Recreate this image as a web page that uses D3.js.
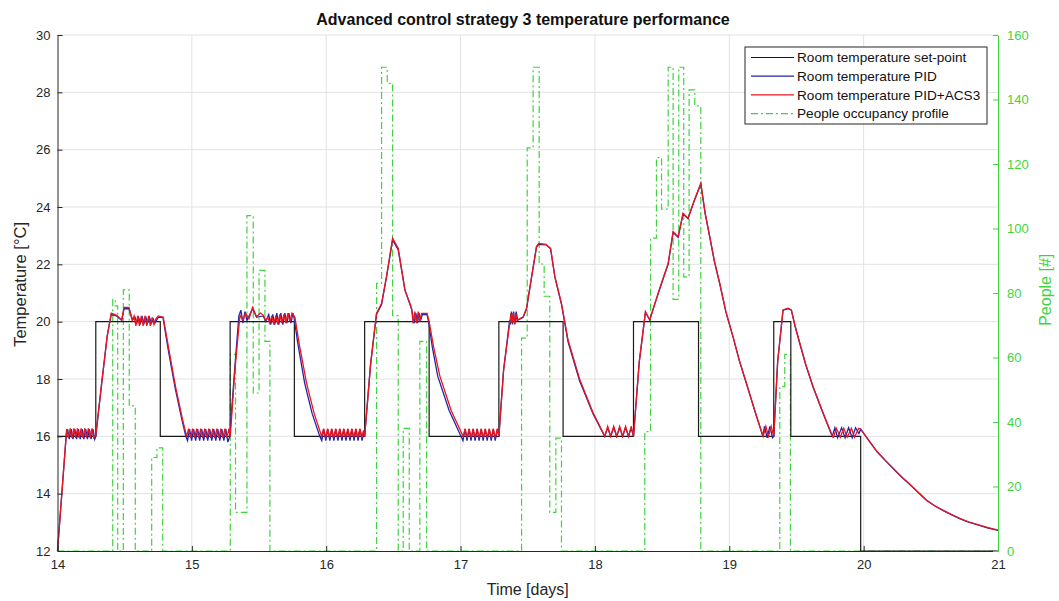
<!DOCTYPE html>
<html>
<head>
<meta charset="utf-8">
<script src="https://cdn.jsdelivr.net/npm/d3@7"></script>
<style>
  body { margin: 0; background: #fff; }
  text { font-family: "Liberation Sans", Arial, sans-serif; }
</style>
</head>
<body>
<div id="chart"></div>
<script>
const width = 1059;
const height = 601;
const margins = { top: 35, bottom: 50, left: 57.5, right: 61 };

// set-point steps [day, degC]
const setPoint = [
  [14.0, 16], [14.285, 20], [14.765, 16], [15.285, 20], [15.763, 16],
  [16.286, 20], [16.766, 16], [17.285, 20], [17.763, 16], [18.287, 20],
  [18.771, 16], [19.331, 20], [19.458, 16], [19.978, 12], [21.0, 12],
];

// room temperature with PID+ACS3 [day, degC]
const tempAcs3 = [
  [14.0, 12.0], [14.068, 16.25], [14.081, 15.95], [14.095, 16.28], [14.108, 15.95],
  [14.122, 16.28], [14.135, 15.95], [14.149, 16.28], [14.162, 15.95], [14.176, 16.28],
  [14.189, 15.95], [14.203, 16.28], [14.216, 15.95], [14.23, 16.28], [14.243, 15.95],
  [14.257, 16.28], [14.27, 15.95], [14.285, 16.05],
  [14.33, 17.9], [14.37, 19.5], [14.4, 20.3], [14.44, 20.22], [14.478, 20.05],
  [14.495, 20.5], [14.532, 20.5], [14.557, 20.05], [14.57, 20.2], [14.583, 19.85],
  [14.597, 20.2], [14.61, 19.85], [14.624, 20.2], [14.637, 19.85], [14.651, 20.2],
  [14.664, 19.85], [14.678, 20.2], [14.691, 19.85], [14.705, 20.15], [14.718, 19.9],
  [14.732, 20.1], [14.75, 20.2], [14.787, 20.15],
  [14.83, 19.0], [14.88, 17.7], [14.93, 16.6], [14.961, 16.0],
  [14.976, 16.27], [14.991, 15.95], [15.006, 16.27], [15.021, 15.95], [15.036, 16.27],
  [15.051, 15.95], [15.066, 16.27], [15.081, 15.95], [15.096, 16.27], [15.111, 15.95],
  [15.126, 16.27], [15.141, 15.95], [15.156, 16.27], [15.171, 15.95], [15.186, 16.27],
  [15.201, 15.95], [15.216, 16.27], [15.231, 15.95], [15.246, 16.27], [15.261, 15.95],
  [15.276, 16.27], [15.286, 16.0],
  [15.32, 18.3], [15.358, 20.23], [15.38, 20.05], [15.4, 20.3], [15.425, 20.1],
  [15.452, 20.5], [15.482, 20.17], [15.51, 20.3], [15.531, 20.23], [15.55, 20.05],
  [15.565, 20.15], [15.58, 19.95], [15.595, 20.2], [15.61, 19.9], [15.625, 20.2],
  [15.64, 19.9], [15.655, 20.25], [15.67, 19.95], [15.685, 20.25], [15.7, 19.95],
  [15.715, 20.3], [15.73, 20.0], [15.745, 20.3], [15.767, 20.15],
  [15.8, 19.2], [15.854, 17.85], [15.91, 16.8], [15.966, 16.0],
  [15.98, 16.27], [15.995, 15.95], [16.01, 16.27], [16.025, 15.95], [16.04, 16.27],
  [16.055, 15.95], [16.07, 16.27], [16.085, 15.95], [16.1, 16.27], [16.115, 15.95],
  [16.13, 16.27], [16.145, 15.95], [16.16, 16.27], [16.175, 15.95], [16.19, 16.27],
  [16.205, 15.95], [16.22, 16.27], [16.235, 15.95], [16.25, 16.27], [16.265, 15.95],
  [16.277, 16.2], [16.286, 16.0],
  [16.33, 18.5], [16.374, 20.29], [16.412, 20.64], [16.45, 21.6], [16.494, 22.91],
  [16.536, 22.56], [16.586, 21.11], [16.635, 20.47], [16.647, 19.94], [16.66, 20.35],
  [16.672, 19.95], [16.685, 20.35], [16.697, 20.0], [16.71, 20.29], [16.751, 20.29],
  [16.766, 20.0],
  [16.8, 19.1], [16.846, 18.1], [16.93, 16.9], [17.019, 16.0],
  [17.034, 16.27], [17.049, 15.95], [17.064, 16.27], [17.079, 15.95], [17.094, 16.27],
  [17.109, 15.95], [17.124, 16.27], [17.139, 15.95], [17.154, 16.27], [17.169, 15.95],
  [17.184, 16.27], [17.199, 15.95], [17.214, 16.27], [17.229, 15.95], [17.244, 16.27],
  [17.259, 15.95], [17.274, 16.27], [17.285, 16.0],
  [17.32, 18.3], [17.367, 20.0], [17.375, 20.3], [17.383, 19.95], [17.391, 20.3],
  [17.4, 19.95], [17.41, 20.3], [17.42, 20.05], [17.466, 20.17], [17.491, 20.47],
  [17.53, 21.6], [17.565, 22.62], [17.581, 22.73], [17.635, 22.7], [17.67, 22.56],
  [17.702, 21.57], [17.751, 20.64], [17.8, 19.36], [17.888, 17.97], [17.987, 16.81],
  [18.074, 16.0],
  [18.095, 16.35], [18.117, 16.0], [18.14, 16.35], [18.162, 16.0], [18.184, 16.35],
  [18.206, 16.0], [18.228, 16.35], [18.25, 16.0], [18.27, 16.35], [18.287, 16.0],
  [18.33, 18.6], [18.376, 20.35], [18.408, 20.06], [18.446, 20.64], [18.495, 21.34],
  [18.545, 22.03], [18.582, 23.14], [18.619, 22.96], [18.656, 23.78], [18.693, 23.61],
  [18.736, 24.19], [18.788, 24.83],
  [18.82, 23.8], [18.855, 22.96], [18.89, 22.1], [18.929, 21.34], [18.975, 20.35],
  [19.028, 19.48], [19.075, 18.65], [19.128, 17.85], [19.19, 16.9], [19.252, 16.0],
  [19.272, 16.35], [19.292, 16.0], [19.312, 16.35], [19.331, 16.0],
  [19.36, 18.6], [19.4, 20.41], [19.437, 20.47], [19.462, 20.41],
  [19.49, 19.85], [19.525, 19.25], [19.57, 18.5], [19.624, 17.73], [19.7, 16.8], [19.768, 16.0],
  [19.776, 15.97], [19.797, 16.28], [19.826, 15.97], [19.852, 16.28], [19.878, 15.97],
  [19.909, 16.28], [19.932, 15.97], [19.963, 16.28], [19.978, 16.25],
  [20.04, 15.85], [20.1, 15.47], [20.16, 15.17], [20.219, 14.89], [20.28, 14.6],
  [20.35, 14.3], [20.41, 14.03], [20.467, 13.78], [20.53, 13.58], [20.6, 13.4],
  [20.66, 13.26], [20.715, 13.14], [20.78, 13.02], [20.85, 12.92], [20.92, 12.82],
  [21.0, 12.73],
];

// room temperature with PID only [day, degC]
const tempPid = [
  [14.0, 12.0], [14.066, 16.1], [14.075, 16.25], [14.088, 15.9], [14.102, 16.25],
  [14.115, 15.9], [14.129, 16.25], [14.142, 15.9], [14.156, 16.25], [14.169, 15.9],
  [14.183, 16.25], [14.196, 15.9], [14.21, 16.25], [14.223, 15.9], [14.237, 16.25],
  [14.25, 15.9], [14.264, 16.25], [14.277, 15.9], [14.285, 16.0],
  [14.33, 17.9], [14.37, 19.5], [14.4, 20.25], [14.44, 20.2], [14.478, 20.05],
  [14.495, 20.45], [14.532, 20.45], [14.557, 20.05], [14.577, 20.15], [14.59, 19.95],
  [14.604, 20.15], [14.617, 19.95], [14.631, 20.15], [14.644, 19.95], [14.658, 20.15],
  [14.671, 19.95], [14.685, 20.15], [14.698, 19.95], [14.712, 20.1], [14.725, 19.95],
  [14.75, 20.15], [14.785, 20.15],
  [14.825, 19.0], [14.875, 17.7], [14.925, 16.6], [14.955, 16.0],
  [14.968, 15.85], [14.983, 16.25], [14.998, 15.85], [15.013, 16.25], [15.028, 15.85],
  [15.043, 16.25], [15.058, 15.85], [15.073, 16.25], [15.088, 15.85], [15.103, 16.25],
  [15.118, 15.85], [15.133, 16.25], [15.148, 15.85], [15.163, 16.25], [15.178, 15.85],
  [15.193, 16.25], [15.208, 15.85], [15.223, 16.25], [15.238, 15.85], [15.253, 16.25],
  [15.268, 15.8], [15.282, 16.0],
  [15.318, 18.3], [15.35, 20.2], [15.365, 20.4], [15.38, 19.95], [15.395, 20.35],
  [15.41, 20.05], [15.452, 20.45], [15.482, 20.15], [15.531, 20.2], [15.55, 20.0],
  [15.572, 20.25], [15.587, 19.9], [15.602, 20.25], [15.617, 19.9], [15.632, 20.3],
  [15.647, 19.9], [15.662, 20.3], [15.677, 19.9], [15.692, 20.3], [15.707, 19.95],
  [15.722, 20.3], [15.737, 19.95], [15.752, 20.3], [15.762, 20.1],
  [15.79, 19.2], [15.84, 17.85], [15.895, 16.8], [15.952, 16.0],
  [15.967, 15.85], [15.982, 16.25], [15.997, 15.85], [16.012, 16.25], [16.027, 15.85],
  [16.042, 16.25], [16.057, 15.85], [16.072, 16.25], [16.087, 15.85], [16.102, 16.25],
  [16.117, 15.85], [16.132, 16.25], [16.147, 15.85], [16.162, 16.25], [16.177, 15.85],
  [16.192, 16.25], [16.207, 15.85], [16.222, 16.25], [16.237, 15.85], [16.252, 16.25],
  [16.267, 15.85], [16.28, 16.2], [16.286, 16.0],
  [16.33, 18.5], [16.374, 20.25], [16.412, 20.6], [16.45, 21.6], [16.494, 22.85],
  [16.536, 22.5], [16.586, 21.1], [16.635, 20.45], [16.645, 20.2], [16.655, 19.95],
  [16.667, 20.3], [16.679, 19.95], [16.691, 20.3], [16.703, 20.05], [16.715, 20.25],
  [16.75, 20.25], [16.762, 20.0],
  [16.79, 19.1], [16.83, 18.1], [16.915, 16.9], [17.003, 16.0],
  [17.018, 15.85], [17.033, 16.25], [17.048, 15.85], [17.063, 16.25], [17.078, 15.85],
  [17.093, 16.25], [17.108, 15.85], [17.123, 16.25], [17.138, 15.85], [17.153, 16.25],
  [17.168, 15.85], [17.183, 16.25], [17.198, 15.85], [17.213, 16.25], [17.228, 15.85],
  [17.243, 16.25], [17.258, 15.85], [17.273, 16.25], [17.285, 16.0],
  [17.32, 18.3], [17.365, 20.05], [17.371, 19.9], [17.379, 20.35], [17.387, 19.9],
  [17.395, 20.35], [17.404, 19.9], [17.414, 20.35], [17.425, 20.05], [17.466, 20.15],
  [17.491, 20.45], [17.53, 21.6], [17.565, 22.6], [17.581, 22.7], [17.635, 22.68],
  [17.67, 22.54], [17.702, 21.55], [17.751, 20.6], [17.8, 19.3], [17.885, 17.95],
  [17.985, 16.8], [18.072, 16.0],
  [18.095, 16.3], [18.117, 16.0], [18.14, 16.3], [18.162, 16.0], [18.184, 16.3],
  [18.206, 16.0], [18.228, 16.3], [18.25, 16.0], [18.27, 16.3], [18.287, 16.0],
  [18.33, 18.6], [18.376, 20.33], [18.408, 20.06], [18.446, 20.62], [18.495, 21.32],
  [18.545, 22.01], [18.582, 23.12], [18.619, 22.94], [18.656, 23.76], [18.693, 23.59],
  [18.736, 24.17], [18.788, 24.8],
  [18.82, 23.78], [18.855, 22.94], [18.89, 22.08], [18.929, 21.32], [18.975, 20.33],
  [19.028, 19.46], [19.075, 18.63], [19.128, 17.83], [19.19, 16.88], [19.25, 16.0],
  [19.262, 16.35], [19.282, 15.95], [19.302, 16.35], [19.322, 15.95], [19.331, 16.0],
  [19.36, 18.6], [19.4, 20.4], [19.437, 20.45], [19.462, 20.4],
  [19.49, 19.83], [19.525, 19.23], [19.57, 18.48], [19.624, 17.71], [19.7, 16.78], [19.766, 16.0],
  [19.786, 16.3], [19.806, 15.95], [19.836, 16.3], [19.862, 15.95], [19.888, 16.3],
  [19.915, 15.95], [19.94, 16.3], [19.965, 16.1], [19.978, 16.25],
  [20.04, 15.84], [20.1, 15.46], [20.16, 15.16], [20.219, 14.88], [20.28, 14.59],
  [20.35, 14.29], [20.41, 14.02], [20.467, 13.77], [20.53, 13.57], [20.6, 13.39],
  [20.66, 13.25], [20.715, 13.13], [20.78, 13.01], [20.85, 12.91], [20.92, 12.81],
  [21.0, 12.72],
];

// people occupancy profile steps [day, people]
const occupancy = [
  [14.0, 0], [14.411, 78], [14.43, 76], [14.448, 0], [14.49, 81], [14.534, 45],
  [14.579, 0], [14.701, 29], [14.74, 32], [14.783, 0],
  [15.286, 61], [15.325, 12], [15.41, 104], [15.457, 49], [15.5, 87], [15.544, 65],
  [15.581, 0],
  [16.375, 83], [16.412, 150], [16.454, 145], [16.494, 73], [16.536, 0],
  [16.573, 38], [16.618, 0], [16.697, 65], [16.747, 0],
  [17.454, 66], [17.496, 125], [17.54, 150], [17.585, 89], [17.622, 79],
  [17.664, 12], [17.709, 35], [17.751, 0],
  [18.371, 37], [18.414, 97], [18.458, 122], [18.496, 106], [18.545, 150],
  [18.582, 78], [18.624, 150], [18.661, 85], [18.701, 143], [18.743, 138],
  [18.788, 0],
  [19.376, 51], [19.413, 61], [19.455, 0], [21.0, 0],
];

const xTicks = [14, 15, 16, 17, 18, 19, 20, 21];
const yLeftTicks = [12, 14, 16, 18, 20, 22, 24, 26, 28, 30];
const yRightTicks = [0, 20, 40, 60, 80, 100, 120, 140, 160];

const legendItems = [
  { label: "Room temperature set-point", color: "#1a1a1a", dash: null },
  { label: "Room temperature PID", color: "#2323a8", dash: null },
  { label: "Room temperature PID+ACS3", color: "#e8161e", dash: null },
  { label: "People occupancy profile", color: "#3ed43e", dash: "7,3,2,3" },
];

const green = "#3ed43e";

// SCALES
const timeScale = d3.scaleLinear().domain([14, 21]).range([margins.left, width - margins.right]);
const tempScale = d3.scaleLinear().domain([12, 30]).range([height - margins.bottom, margins.top]);
const peopleScale = d3.scaleLinear().domain([0, 160]).range([height - margins.bottom, margins.top]);

const svg = d3
  .select("#chart")
  .append("svg")
  .attr("width", width)
  .attr("height", height);

// GRID
svg
  .append("g")
  .selectAll("line.vgrid")
  .data(xTicks.slice(1, -1))
  .enter()
  .append("line")
  .attr("x1", (d) => timeScale(d))
  .attr("x2", (d) => timeScale(d))
  .attr("y1", margins.top)
  .attr("y2", height - margins.bottom)
  .attr("stroke", "#e2e2e2");

svg
  .append("g")
  .selectAll("line.hgrid")
  .data(yLeftTicks.slice(1))
  .enter()
  .append("line")
  .attr("x1", margins.left)
  .attr("x2", width - margins.right)
  .attr("y1", (d) => tempScale(d))
  .attr("y2", (d) => tempScale(d))
  .attr("stroke", "#e2e2e2");

// LINES
const tempLine = d3
  .line()
  .x((d) => timeScale(d[0]))
  .y((d) => tempScale(d[1]));

const stepLine = d3
  .line()
  .curve(d3.curveStepAfter)
  .x((d) => timeScale(d[0]))
  .y((d) => tempScale(d[1]));

const peopleLine = d3
  .line()
  .curve(d3.curveStepAfter)
  .x((d) => timeScale(d[0]))
  .y((d) => peopleScale(d[1]));

svg
  .append("path")
  .attr("d", peopleLine(occupancy))
  .attr("fill", "none")
  .attr("stroke", green)
  .attr("stroke-width", 1.2)
  .attr("stroke-dasharray", "7,3,2,3");

svg
  .append("path")
  .attr("d", stepLine(setPoint))
  .attr("fill", "none")
  .attr("stroke", legendItems[0].color)
  .attr("stroke-width", 1.2);

svg
  .append("path")
  .attr("d", tempLine(tempPid))
  .attr("fill", "none")
  .attr("stroke", legendItems[1].color)
  .attr("stroke-width", 1.3);

svg
  .append("path")
  .attr("d", tempLine(tempAcs3))
  .attr("fill", "none")
  .attr("stroke", legendItems[2].color)
  .attr("stroke-width", 1.3);

// AXES
const xAxis = d3.axisBottom(timeScale).tickValues(xTicks).tickFormat(d3.format("d"))
  .tickSizeInner(-5).tickSizeOuter(0).tickPadding(9);
const yAxis = d3.axisLeft(tempScale).tickValues(yLeftTicks).tickFormat(d3.format("d"))
  .tickSizeInner(-5).tickSizeOuter(0).tickPadding(7);
const yAxisRight = d3.axisRight(peopleScale).tickValues(yRightTicks).tickFormat(d3.format("d"))
  .tickSizeInner(-5).tickSizeOuter(0).tickPadding(9);

const gx = svg
  .append("g")
  .attr("transform", `translate(0,${height - margins.bottom})`)
  .call(xAxis);
const gy = svg
  .append("g")
  .attr("transform", `translate(${margins.left},0)`)
  .call(yAxis);
const gyr = svg
  .append("g")
  .attr("transform", `translate(${width - margins.right},0)`)
  .call(yAxisRight);

[gx, gy].forEach((g) => {
  g.select(".domain").attr("stroke", "#262626");
  g.selectAll(".tick line").attr("stroke", "#262626");
  g.selectAll(".tick text")
    .attr("fill", "#262626")
    .style("font-size", "13px")
    .style("font-family", '"Liberation Sans", Arial, sans-serif');
});
gyr.select(".domain").attr("stroke", green);
gyr.selectAll(".tick line").attr("stroke", green);
gyr.selectAll(".tick text")
  .attr("fill", green)
  .style("font-size", "13px")
  .style("font-family", '"Liberation Sans", Arial, sans-serif');

// LABELS
svg
  .append("text")
  .text("Advanced control strategy 3 temperature performance")
  .attr("x", 523)
  .attr("y", 25)
  .attr("text-anchor", "middle")
  .style("font-weight", "bold")
  .style("font-size", "16px")
  .attr("fill", "#111");

svg
  .append("text")
  .text("Time [days]")
  .attr("x", timeScale(17.5))
  .attr("y", 595)
  .attr("text-anchor", "middle")
  .style("font-size", "16px")
  .attr("fill", "#262626");

svg
  .append("text")
  .text("Temperature [°C]")
  .attr("transform", `translate(26,${tempScale(21.3)}) rotate(-90)`)
  .attr("text-anchor", "middle")
  .style("font-size", "16.5px")
  .attr("fill", "#262626");

svg
  .append("text")
  .text("People [#]")
  .attr("transform", `translate(1051,${peopleScale(81)}) rotate(-90)`)
  .attr("text-anchor", "middle")
  .style("font-size", "16px")
  .attr("fill", green);

// LEGEND
const legend = svg.append("g").attr("transform", "translate(745,47)");
legend
  .append("rect")
  .attr("width", 242)
  .attr("height", 77)
  .attr("fill", "#fff")
  .attr("stroke", "#262626");

const rows = legend
  .selectAll("g.row")
  .data(legendItems)
  .enter()
  .append("g")
  .attr("transform", (d, i) => `translate(0,${10.5 + i * 18.7})`);

rows
  .append("line")
  .attr("x1", 6)
  .attr("x2", 49)
  .attr("stroke", (d) => d.color)
  .attr("stroke-width", 1.2)
  .attr("stroke-dasharray", (d) => d.dash);

rows
  .append("text")
  .text((d) => d.label)
  .attr("x", 52)
  .attr("dy", "0.35em")
  .style("font-size", "13.6px")
  .attr("fill", "#111");
</script>
</body>
</html>
